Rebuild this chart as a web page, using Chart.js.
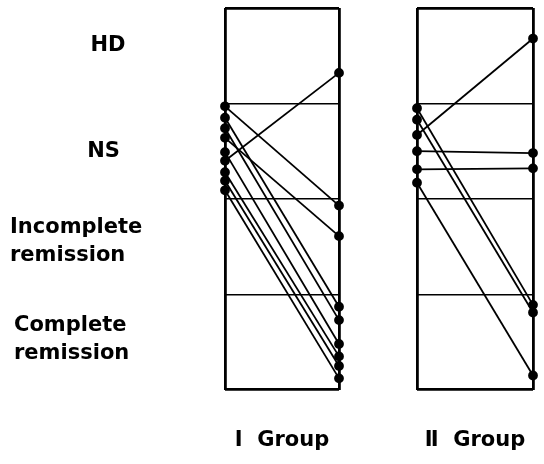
<!DOCTYPE html>
<html>
<head>
<meta charset="utf-8">
<script src="https://cdn.jsdelivr.net/npm/chart.js@4"></script>
<style>
  html, body { margin: 0; padding: 0; background: #fff; }
  #wrap { position: relative; width: 544px; height: 464px; }
  #c1 { position: absolute; left: 0; top: 0; }
  #c2 { position: absolute; left: 380px; top: 0; }
</style>
</head>
<body>
<div id="wrap">
  <canvas id="c1" width="380" height="464"></canvas>
  <canvas id="c2" width="164" height="464"></canvas>
</div>
<script>
// response bands, bottom (0) to top (4)
const categories = ['Complete\nremission', 'Incomplete\nremission', 'NS', 'HD'];
const categoryLevels = [0.53, 1.555, 2.5, 3.61];

// group I: level before (left edge) and after (right edge)
const groupIBefore = [2.97, 2.85, 2.74, 2.64, 2.49, 2.40, 2.28, 2.19, 2.09];
const groupIAfter  = [1.93, 0.87, 0.73, 1.61, 0.48, 3.32, 0.35, 0.25, 0.12];

// group II
const groupIIBefore = [2.95, 2.83, 2.67, 2.50, 2.31, 2.17];
const groupIIAfter  = [0.89, 0.81, 3.68, 2.48, 2.32, 0.15];

const groupTitles = ['\u2160  Group', '\u2161  Group'];

const FONT = 'DejaVu Sans';

function makeDatasets(before, after) {
    return before.map(function (b, i) {
        return {
            data: [{ x: 0, y: b }, { x: 1, y: after[i] }],
            borderColor: '#000',
            backgroundColor: '#000',
            borderWidth: 1.8,
            pointRadius: 4,
            pointHoverRadius: 4,
            clip: false
        };
    });
}

// writes the band names to the left of the first panel
const bandLabels = {
    id: 'bandLabels',
    afterDraw: function (chart, args, opts) {
        if (!opts.show) return;
        const ctx = chart.ctx;
        const y = chart.scales.y;
        ctx.save();
        ctx.fillStyle = '#000';
        ctx.font = 'bold 21px "' + FONT + '"';
        ctx.textBaseline = 'middle';
        categories.forEach(function (name, i) {
            const lines = name.split('\n');
            const cy = y.getPixelForValue(categoryLevels[i]);
            const lh = 28;
            const y0 = cy - (lines.length - 1) * lh / 2;
            const place = opts.place[i];
            ctx.textAlign = place.align;
            lines.forEach(function (line, k) {
                ctx.fillText(line, place.x, y0 + k * lh);
            });
        });
        ctx.restore();
    }
};

function frameWidth(ctx) {
    return (ctx.tick && (ctx.tick.value === 0 || ctx.tick.value === 4)) ? 2.8 : 1.4;
}

function makeChart(id, before, after, title, padLeft, padRight, showBands) {
    return new Chart(document.getElementById(id), {
        type: 'line',
        data: { datasets: makeDatasets(before, after) },
        plugins: [bandLabels],
        options: {
            responsive: false,
            animation: false,
            layout: { padding: { left: padLeft, right: padRight, top: 8, bottom: 11 } },
            plugins: {
                legend: { display: false },
                tooltip: { enabled: false },
                bandLabels: {
                    show: showBands,
                    place: [
                        { x: 14, align: 'left' },
                        { x: 10, align: 'left' },
                        { x: 103.5, align: 'center' },
                        { x: 108, align: 'center' }
                    ]
                }
            },
            scales: {
                x: {
                    type: 'linear',
                    min: 0,
                    max: 1,
                    ticks: { display: false, stepSize: 1 },
                    grid: { color: '#000', lineWidth: 2.8, drawTicks: false },
                    border: { display: false },
                    title: {
                        display: true,
                        text: title,
                        color: '#000',
                        font: { family: FONT, size: 21, weight: 'bold' },
                        padding: { top: 38, bottom: 0 }
                    }
                },
                y: {
                    min: 0,
                    max: 4,
                    ticks: { display: false, stepSize: 1 },
                    grid: { color: '#000', lineWidth: frameWidth, drawTicks: false },
                    border: { display: false }
                }
            }
        }
    });
}

makeChart('c1', groupIBefore, groupIAfter, groupTitles[0], 225, 41, true);
makeChart('c2', groupIIBefore, groupIIAfter, groupTitles[1], 37, 11, false);
</script>
</body>
</html>
